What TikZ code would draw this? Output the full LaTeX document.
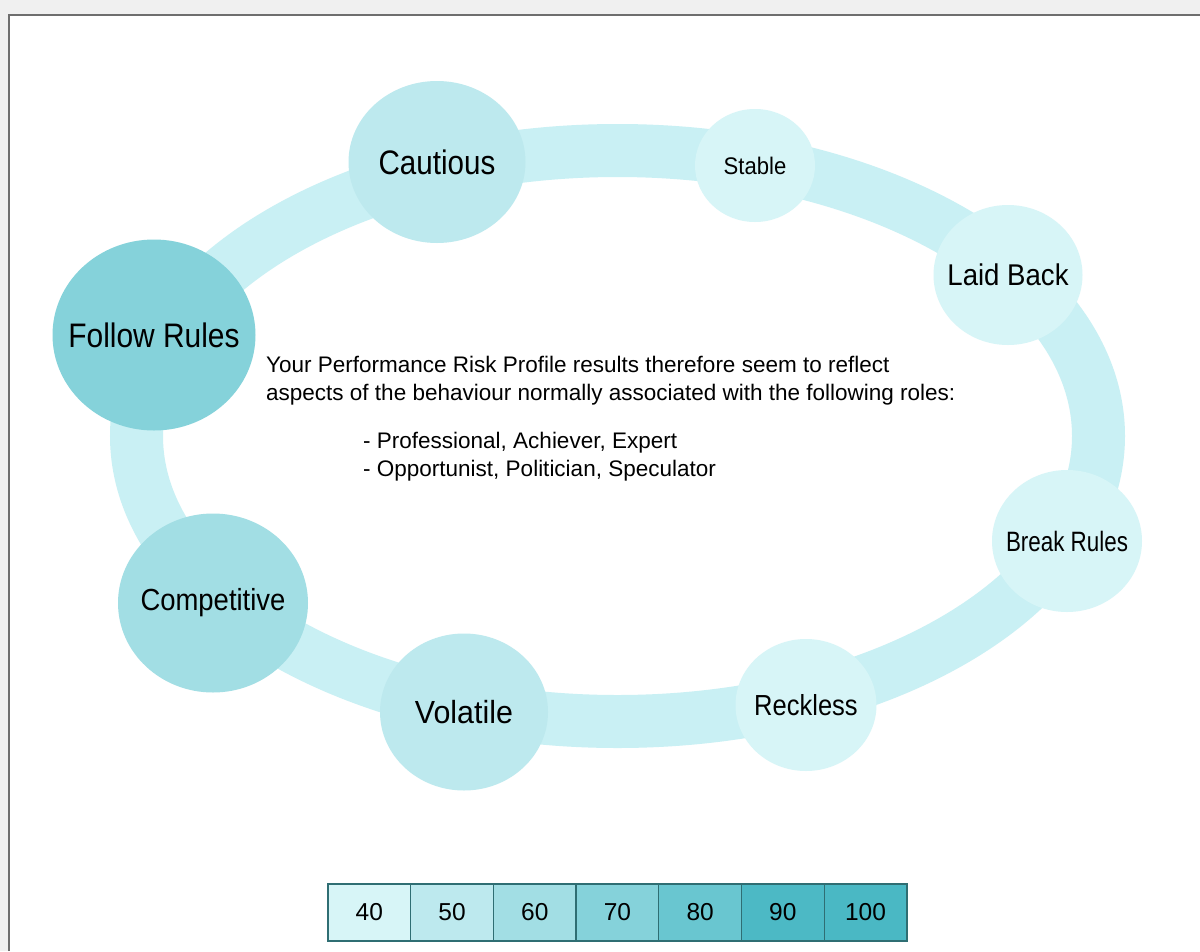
\documentclass[tikz,border=0pt]{standalone}
\usepackage{fontspec}
\setmainfont{Liberation Sans}
\usepackage{graphicx}
\usetikzlibrary{shapes.geometric}
\definecolor{c40}{HTML}{D7F5F7}
\definecolor{c50}{HTML}{BDE9EE}
\definecolor{c60}{HTML}{A2DEE4}
\definecolor{c70}{HTML}{85D2DA}
\definecolor{c80}{HTML}{69C6D0}
\definecolor{c90}{HTML}{4CB9C5}
\definecolor{c100}{HTML}{4AB8C4}
\definecolor{ringc}{HTML}{C9F0F4}
\definecolor{legendline}{HTML}{2F6E73}
\definecolor{pagegray}{HTML}{F0F0F0}
\definecolor{framegray}{HTML}{6E6E6E}
% label of a role: size, horizontal scale, text
\newcommand{\rolelabel}[3]{\makebox[0pt]{\scalebox{#2}[1]{\fontsize{#1}{#1}\selectfont #3}}}

\begin{document}
\begin{tikzpicture}[x=1pt,y=-1pt]
  \tikzset{role/.style={ellipse, fill=#1, inner sep=0pt},
    bodytext/.style={anchor=base west, inner sep=0pt, font=\fontsize{22.5}{28}\selectfont},
    legendbox/.style={draw=legendline, line width=1.3, fill=#1, minimum width=82.7,
      minimum height=57, inner sep=0pt, font=\fontsize{24.5}{24.5}\selectfont}
  }
  \useasboundingbox (0,0) rectangle (1200,951);
  \fill [pagegray] (0,0) rectangle (1200,951);
  \fill [white] (9,15) rectangle (1200,951);
  \draw [framegray, line width=1.8] (9,951) -- (9,15) -- (1200,15);

  % ring behind the roles
  \draw [ringc, line width=53] (617.5,436) ellipse (481 and 285.5);

  \node [role=c70, minimum width=203, minimum height=191] (follow) at (154,335) {\rolelabel{34}{0.88}{Follow Rules}};
  \node [role=c50, minimum width=177, minimum height=162] (cautious) at (437,162) {\rolelabel{34}{0.87}{Cautious}};
  \node [role=c40, minimum width=120, minimum height=113] (stable) at (755,165.5) {\rolelabel{24}{0.92}{Stable}};
  \node [role=c40, minimum width=149, minimum height=140] (laidback) at (1008,275) {\rolelabel{30}{0.92}{Laid Back}};
  \node [role=c40, minimum width=150, minimum height=142] (breakrules) at (1067,541) {\rolelabel{28}{0.8}{Break Rules}};
  \node [role=c40, minimum width=141, minimum height=132] (reckless) at (806,705) {\rolelabel{29}{0.88}{Reckless}};
  \node [role=c50, minimum width=168, minimum height=157] (volatile) at (464,712) {\rolelabel{32}{0.95}{Volatile}};
  \node [role=c60, minimum width=190, minimum height=179] (competitive) at (213,603) {\rolelabel{30.5}{0.9}{Competitive}};

  \node [bodytext] (intro1) at (266,372) {Your Performance Risk Profile results therefore seem to reflect};
  \node [bodytext] (intro2) at (266,400) {aspects of the behaviour normally associated with the following roles:};
  \node [bodytext] (rolesa) at (363,448) {- Professional, Achiever, Expert};
  \node [bodytext] (rolesb) at (363,476) {- Opportunist, Politician, Speculator};

  % colour scale
  \foreach \v [count=\i from 0] in {40,50,...,100}
    \node [legendbox=c\v] (leg\v) at ({369.35+82.7*\i},912.5) {\v};
\end{tikzpicture}
\end{document}
